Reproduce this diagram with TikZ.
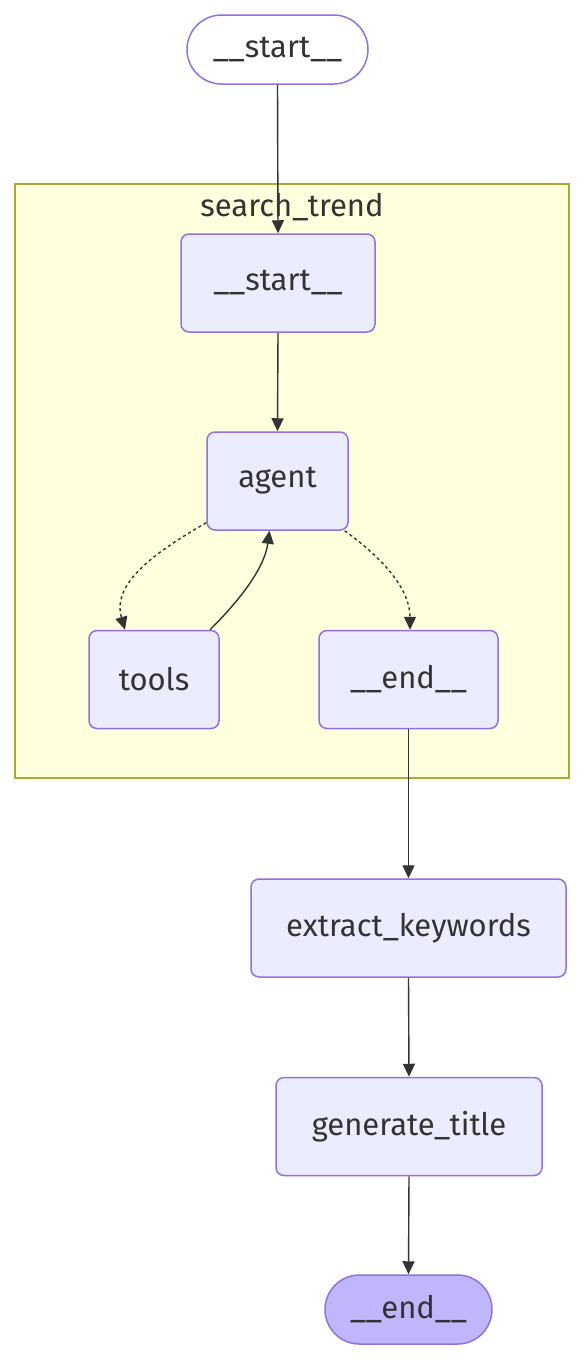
\documentclass[tikz,border=0pt]{standalone}
\usepackage{fontspec}
\setmainfont{Fira Sans}
\usetikzlibrary{arrows.meta,shapes.misc}
\definecolor{nodefill}{HTML}{ECECFF}
\definecolor{nodeline}{HTML}{9370DB}
\definecolor{clfill}{HTML}{FFFFDE}
\definecolor{clline}{HTML}{AAAA33}
\definecolor{txt}{HTML}{333333}
\definecolor{endfill}{HTML}{BFB6FC}
\tikzset{
  box/.style={draw=nodeline, fill=nodefill, line width=1.5pt, rounded corners=8pt,
    text=txt, font=\fontsize{31}{36}\selectfont, minimum height=98pt, inner sep=0pt},
  stadium/.style={draw=nodeline, line width=1.5pt, rounded rectangle,
    text=txt, font=\fontsize{31}{36}\selectfont, minimum height=69pt, inner sep=0pt},
  edge/.style={draw=txt, line width=1.4pt, -{Triangle[length=13pt,width=12pt]}},
  dedge/.style={edge, dash pattern=on 3pt off 3pt}
}
\begin{document}
\begin{tikzpicture}[x=1pt,y=-1pt]
\useasboundingbox (0,0) rectangle (586,1360);
\fill[white] (0,0) rectangle (586,1360);
% cluster
\node[draw=clline, fill=clfill, line width=1.5pt, minimum width=554pt, minimum height=594pt, inner sep=0pt] (cluster) at (292,481) {};
\node[text=txt, font=\fontsize{31}{36}\selectfont] (cllabel) at (292,207) {search\_trend};
% nodes
\node[stadium, fill=white, minimum width=181pt] (s0) at (277.5,49.5) {\_\_start\_\_};
\node[box, minimum width=194pt] (s1) at (278,283) {\_\_start\_\_};
\node[box, minimum width=141pt] (agent) at (277.5,481) {agent};
\node[box, minimum width=130pt] (tools) at (154,679.5) {tools};
\node[box, minimum width=179pt] (e1) at (408.5,679.5) {\_\_end\_\_};
\node[box, minimum width=315pt] (kw) at (408.5,928) {extract\_keywords};
\node[box, minimum width=266pt] (gt) at (409,1126.5) {generate\_title};
\node[stadium, fill=endfill, minimum width=167pt] (e0) at (408.5,1309.5) {\_\_end\_\_};
% edges
\draw[edge] (s0.south) -- (s1.north);
\draw[edge] (s1.south) -- (agent.north);
\draw[dedge] ([yshift=8pt]agent.south west) .. controls (150,555) and (112,585) .. ([xshift=-29pt]tools.north);
\draw[edge] ([xshift=56pt]tools.north) .. controls (245,595) and (265,565) .. ([xshift=-8pt]agent.south);
\draw[dedge] ([xshift=-4pt]agent.south east) .. controls (385,560) and (410,590) .. ([xshift=1.5pt]e1.north);
\draw[edge] (e1.south) -- (kw.north);
\draw[edge] (kw.south) -- (gt.north);
\draw[edge] (gt.south) -- (e0.north);
\end{tikzpicture}
\end{document}
